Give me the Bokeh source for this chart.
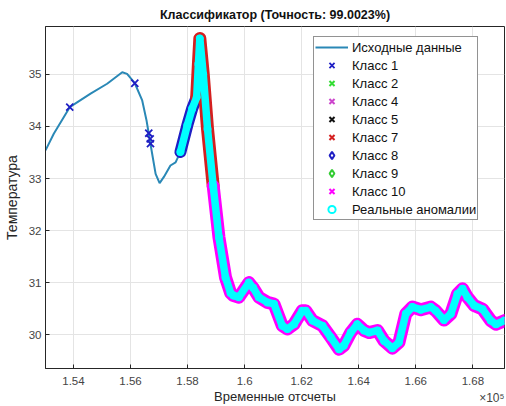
from bokeh.plotting import figure
from bokeh.models import Legend, LegendItem, Title, FixedTicker, Range1d
from bokeh.embed import file_html
from bokeh.resources import INLINE

NAN = float("nan")

# ---- data ----
raw_x_pre = [153020, 153310, 153870, 154600, 155180, 155710, 155880, 156150,
             156410, 156560, 156640, 156760, 156880, 157020, 157170, 157400,
             157580]
raw_y_pre = [33.54, 33.86, 34.37, 34.63, 34.82, 35.04, 35.01, 34.83,
             34.50, 34.12, 33.86, 33.47, 33.09, 32.91, 33.03, 33.25,
             33.31]

class1_x = [153870, 156150, 156640, 156690, 156700]
class1_y = [34.37, 34.83, 33.87, 33.76, 33.67]

class8_x = [157750, 157990, 158160, 158320]
class8_y = [33.51, 34.02, 34.34, 34.56]

class7_x = [158320, 158380, 158430, 158550, 158700, 158900]
class7_y = [34.56, 35.20, 35.69, 35.00, 33.95, 32.85]

class10_x = [158900, 159100, 159330, 159510, 159610, 159800, 160150, 160300,
             160500, 160800, 161030, 161320, 161500, 161730, 162020, 162140,
             162380, 162730, 163020, 163310, 163480, 163720, 163950, 164190,
             164360, 164660, 164890, 165180, 165410, 165650, 165880, 166180,
             166530, 166700, 166990, 167230, 167460, 167640, 167810, 168050,
             168340, 168630, 168810, 169110]
class10_y = [32.85, 31.87, 31.10, 30.80, 30.75, 30.72, 31.00, 30.90,
             30.72, 30.62, 30.59, 30.17, 30.11, 30.20, 30.46, 30.46,
             30.27, 30.17, 29.95, 29.72, 29.79, 30.04, 30.20, 30.08,
             30.04, 30.08, 29.88, 29.74, 29.85, 30.40, 30.53, 30.48,
             30.53, 30.46, 30.28, 30.40, 30.78, 30.88, 30.72, 30.56,
             30.49, 30.27, 30.20, 30.27]

# classes with no samples in this window
empty_x = [NAN]
empty_y = [NAN]

anom_x = class8_x + class7_x[1:] + class10_x[1:]
anom_y = class8_y + class7_y[1:] + class10_y[1:]
raw_x = raw_x_pre + anom_x
raw_y = raw_y_pre + anom_y

x_ticks = [154000, 156000, 158000, 160000, 162000, 164000, 166000, 168000]
x_tick_labels = ["1.54", "1.56", "1.58", "1.6", "1.62", "1.64", "1.66", "1.68"]
y_ticks = [30, 31, 32, 33, 34, 35]

x_min, x_max = 153020, 169110
y_min, y_max = 29.35, 35.92

FONT = "Liberation Sans"

p = figure(width=506, height=406, x_range=Range1d(x_min, x_max),
           y_range=Range1d(y_min, y_max), output_backend="svg",
           toolbar_location=None, min_border_left=45, min_border_right=2,
           min_border_top=26, min_border_bottom=38,
           title="Классификатор (Точность: 99.0023%)")

p.title.align = "center"
p.title.text_font = FONT
p.title.text_font_size = "12.5px"
p.title.text_font_style = "bold"
p.title.text_color = "#111111"
p.title.standoff = 10

p.outline_line_color = "#262626"
p.outline_line_width = 1
for ax in (p.xaxis[0], p.yaxis[0]):
    ax.axis_line_color = "#262626"
    ax.major_tick_line_color = "#262626"
    ax.major_tick_in = 4
    ax.major_tick_out = 0
    ax.minor_tick_line_color = None
    ax.major_label_text_font = FONT
    ax.major_label_text_font_size = "11.5px"
    ax.major_label_text_color = "#444444"
    ax.axis_label_text_font = FONT
    ax.axis_label_text_font_style = "normal"
    ax.axis_label_text_color = "#262626"

p.xaxis.ticker = FixedTicker(ticks=x_ticks)
p.xaxis.major_label_overrides = {t: l for t, l in zip(x_ticks, x_tick_labels)}
p.xaxis.axis_label = "Временные отсчеты"
p.xaxis.axis_label_text_font_size = "13px"
p.xaxis.axis_label_standoff = 1
p.xaxis.major_label_standoff = 8

p.yaxis.ticker = FixedTicker(ticks=y_ticks)
p.yaxis.axis_label = "Температура"
p.yaxis.axis_label_text_font_size = "14px"
p.yaxis.axis_label_standoff = 6
p.yaxis.major_label_standoff = 4

p.xgrid.grid_line_color = "#e4e4e4"
p.ygrid.grid_line_color = "#e4e4e4"

# raw data
r_raw = p.line(raw_x, raw_y, line_color="#2a88b6", line_width=2)

# class 1
r_c1 = p.scatter(class1_x, class1_y, marker="x", size=10, line_width=1.8,
                 color="#1f1fc4")

# class 8 band
p.line(class8_x, class8_y, line_color="#1f1fc4", line_width=12,
       line_join="round", line_cap="round")
r_c8 = p.scatter(class8_x, class8_y, marker="diamond", size=10, line_width=2,
                 line_color="#1f1fc4", fill_color=None)

# class 7 band
p.line(class7_x, class7_y, line_color="#d42020", line_width=13,
       line_join="round", line_cap="round")
r_c7 = p.scatter(class7_x, class7_y, marker="x", size=10, line_width=2,
                 color="#d42020")

# class 10 band
p.line(class10_x, class10_y, line_color="#ff00ff", line_width=13,
       line_join="round", line_cap="round")
r_c10 = p.scatter(class10_x, class10_y, marker="x", size=10, line_width=2,
                  color="#ff00ff")

# classes without samples here (legend only)
r_c2 = p.scatter(empty_x, empty_y, marker="x", size=9, line_width=2, color="#33dd33")
r_c4 = p.scatter(empty_x, empty_y, marker="x", size=9, line_width=2, color="#cc44cc")
r_c5 = p.scatter(empty_x, empty_y, marker="x", size=9, line_width=2, color="#111111")
r_c9 = p.scatter(empty_x, empty_y, marker="diamond", size=9, line_width=2,
                 line_color="#33cc33", fill_color=None)

# real anomalies
p.line(anom_x, anom_y, line_color="#00ffff", line_width=7.5,
       line_join="round", line_cap="round")
r_an = p.scatter(anom_x, anom_y, marker="circle", size=6, line_width=2,
                 line_color="#00ffff", fill_color=None)

legend = Legend(items=[
    LegendItem(label="Исходные данные", renderers=[r_raw]),
    LegendItem(label="Класс 1", renderers=[r_c1]),
    LegendItem(label="Класс 2", renderers=[r_c2]),
    LegendItem(label="Класс 4", renderers=[r_c4]),
    LegendItem(label="Класс 5", renderers=[r_c5]),
    LegendItem(label="Класс 7", renderers=[r_c7]),
    LegendItem(label="Класс 8", renderers=[r_c8]),
    LegendItem(label="Класс 9", renderers=[r_c9]),
    LegendItem(label="Класс 10", renderers=[r_c10]),
    LegendItem(label="Реальные аномалии", renderers=[r_an]),
])
legend.location = (268, 148)
legend.margin = 0
legend.padding = 1
legend.spacing = 0
legend.label_height = 18
legend.glyph_height = 18
legend.glyph_width = 33
legend.label_standoff = 4
legend.label_text_font = FONT
legend.label_text_font_size = "13px"
legend.label_text_color = "#111111"
legend.border_line_color = "#262626"
legend.border_line_width = 1
legend.background_fill_color = "white"
legend.background_fill_alpha = 1
p.add_layout(legend)

p.add_layout(Title(text="×10⁵", align="right", vertical_align="top",
                   standoff=-32, text_font=FONT, text_font_size="12px",
                   text_font_style="normal", text_color="#444444"), "below")

open("out.html", "w").write(file_html(p, INLINE))
